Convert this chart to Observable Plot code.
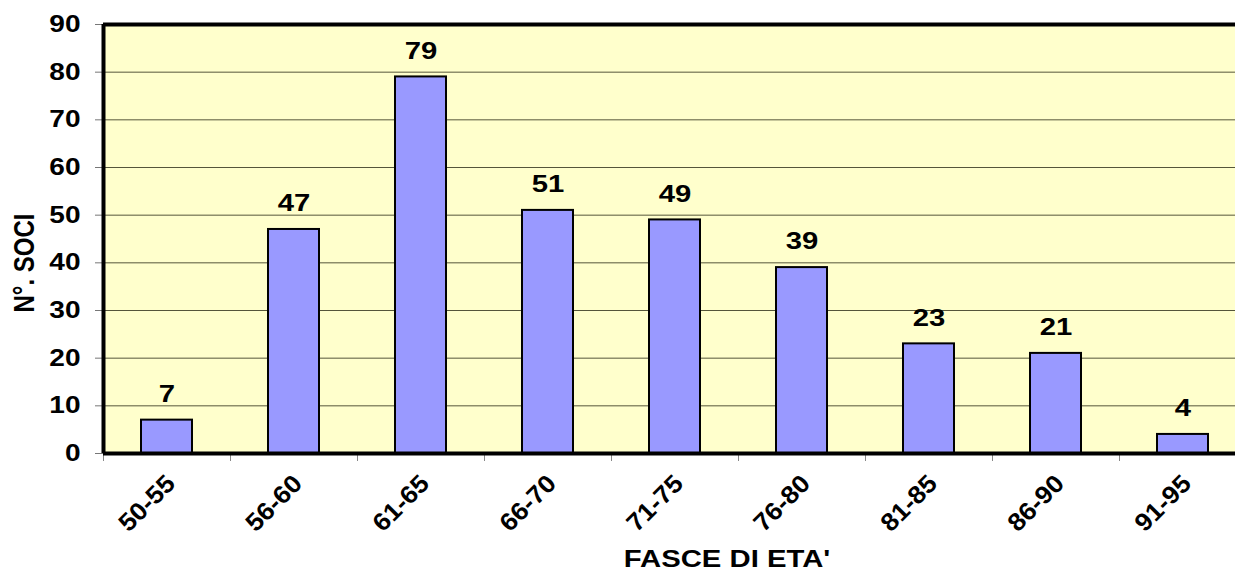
<!DOCTYPE html>
<html><head><meta charset="utf-8">
<script src="https://cdn.jsdelivr.net/npm/d3@7"></script>
<script src="https://cdn.jsdelivr.net/npm/@observablehq/plot@0.6"></script>
<style>html,body{margin:0;padding:0;background:#fff;overflow:hidden;width:1235px;height:572px}</style>
</head><body><div id="chart"></div>
<script>
const categories = ["50-55","56-60","61-65","66-70","71-75","76-80","81-85","86-90","91-95"];
const soci = [7,47,79,51,49,39,23,21,4];
const yTicks = [0,10,20,30,40,50,60,70,80,90];
const gridTicks = [10,20,30,40,50,60,70,80];

const data = categories.map((c,i)=>({fascia:c, n:soci[i]}));
const font = "'Liberation Sans', Arial, sans-serif";
const stretch = 1.22;      // glyphs in the original are drawn wider than tall
const slantStretch = 1.06; // milder widening for the 45° category labels

const chart = Plot.plot({
  width: 1235, height: 572,
  marginLeft: 103, marginTop: 24, marginBottom: 119, marginRight: -11,
  style: {fontFamily: font, fontWeight: "bold", color: "#000", background: "#fff", overflow: "hidden"},
  x: {domain: categories, paddingInner: 0.6, paddingOuter: 0.3, align: 0.5},
  y: {domain: [0,90]},
  marks: [
    Plot.frame({fill: "#FFFFCC"}),
    Plot.ruleY(gridTicks, {stroke: "#55553a", strokeWidth: 1}),
    Plot.barY(data, {x: "fascia", y: "n", fill: "#9999FF", stroke: "#000", strokeWidth: 2}),
    Plot.text(data, {x: "fascia", y: "n", text: d=>String(d.n), dy: -26, fontSize: 24, fontWeight: "bold", fill: "#000"}),
    Plot.axisY({ticks: yTicks, tickSize: 8, tickPadding: 15, fontSize: 23, fontWeight: "bold", stroke: "#777", label: null}),
    Plot.axisX({tickSize: 0, tickRotate: -45, tickPadding: 26, fontSize: 25, fontWeight: "bold", dx: 4, label: null}),
    Plot.axisX({tickSize: 8, text: null, dx: -63.5, stroke: "#888", label: null}),
    Plot.text(["FASCE DI ETA'"], {frameAnchor: "bottom", textAnchor: "middle", lineAnchor: "bottom", dy: 113, dx: 52, fontSize: 24, fontWeight: "bold", fill: "#000"}),
    Plot.text(["N°. SOCI"], {frameAnchor: "left", textAnchor: "middle", lineAnchor: "middle", dx: -79, dy: 24, rotate: -90, fontSize: 24, fontWeight: "bold", fill: "#000"}),
    Plot.ruleY([0], {stroke: "#000", strokeWidth: 4}),
    Plot.ruleY([90], {stroke: "#000", strokeWidth: 4}),
    Plot.tickX([categories[0]], {y1: 0, y2: 90, dx: -63.5, stroke: "#000", strokeWidth: 4})
  ]
});
// widen glyphs about each text's own anchor point
chart.querySelectorAll("text").forEach(t => {
  const tr = t.getAttribute("transform");
  if (tr && /rotate\(\s*-45/.test(tr)) {
    t.setAttribute("transform", tr + ` scale(${slantStretch},1)`);
  } else if (tr && /^\s*translate\(/.test(tr)) {
    t.setAttribute("transform", tr.replace(/^\s*(translate\([^)]*\))/, `$1 scale(${stretch},1)`));
  } else {
    const x = +(t.getAttribute("x") || 0), y = +(t.getAttribute("y") || 0);
    t.setAttribute("transform", `translate(${x},${y}) scale(${stretch},1) translate(${-x},${-y})` + (tr ? " " + tr : ""));
  }
});
document.getElementById("chart").appendChild(chart);
</script></body></html>
